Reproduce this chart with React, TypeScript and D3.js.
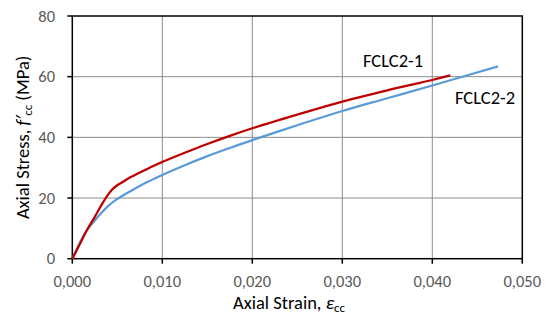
import React from "react";
import * as d3 from "d3";

const xTicks = [0, 0.01, 0.02, 0.03, 0.04, 0.05];
const yTicks = [0, 20, 40, 60, 80];

const strain1 = [0, 0.0008, 0.0016, 0.0025, 0.0033, 0.004, 0.0045, 0.005, 0.0056, 0.0065, 0.0075, 0.0086, 0.0097, 0.0125, 0.015, 0.0175, 0.02, 0.025, 0.03, 0.035, 0.04, 0.042];
const stress1 = [0, 4.6, 9.3, 13.8, 18, 21.2, 23, 24.2, 25.3, 26.9, 28.4, 30.0, 31.5, 34.9, 37.8, 40.5, 43, 47.5, 51.8, 55.5, 58.9, 60.4];

const strain2 = [0, 0.0008, 0.0016, 0.0025, 0.0033, 0.004, 0.0048, 0.0055, 0.0065, 0.008, 0.0097, 0.0125, 0.015, 0.0175, 0.02, 0.025, 0.03, 0.035, 0.04, 0.0473];
const stress2 = [0, 5, 9.3, 12.6, 15.3, 17.4, 19.3, 20.6, 22.3, 24.8, 27.2, 30.8, 33.8, 36.5, 39.1, 44, 48.7, 52.9, 57.1, 63.4];

const seriesNames = ["FCLC2-1", "FCLC2-2"];

const W = 550, H = 322;
const M = { left: 72.3, right: 522.3, top: 16, bottom: 258.7 };

export default function App() {
  const x = d3.scaleLinear().domain([0, 0.05]).range([M.left, M.right]);
  const y = d3.scaleLinear().domain([0, 80]).range([M.bottom, M.top]);
  const line = d3.line<[number, number]>().x(d => x(d[0])).y(d => y(d[1])).curve(d3.curveCatmullRom.alpha(0.5));
  const d1 = line(strain1.map((s, i) => [s, stress1[i]] as [number, number]));
  const d2 = line(strain2.map((s, i) => [s, stress2[i]] as [number, number]));
  const font = "Carlito, 'Open Sans', 'Noto Sans', sans-serif";
  const fmt = (v: number) => v.toFixed(3).replace(".", ",");
  return (
    <svg width={W} height={H} style={{ position: "absolute", left: 0, top: 0, background: "#fff" }} fontFamily={font}>
      {xTicks.slice(1, -1).map(t => (
        <line key={"gx" + t} x1={x(t)} x2={x(t)} y1={M.top} y2={M.bottom} stroke="#8c8c8c" strokeWidth={1} />
      ))}
      {yTicks.slice(1, -1).map(t => (
        <line key={"gy" + t} x1={M.left} x2={M.right} y1={y(t)} y2={y(t)} stroke="#8c8c8c" strokeWidth={1} />
      ))}
      <rect x={M.left} y={M.top} width={M.right - M.left} height={M.bottom - M.top} fill="none" stroke="#000" strokeWidth={1.5} />
      {xTicks.map(t => (
        <g key={"tx" + t}>
          <line x1={x(t)} x2={x(t)} y1={M.bottom} y2={M.bottom + 5} stroke="#000" strokeWidth={1.5} />
          <text x={x(t)} y={287} textAnchor="middle" fontSize={16.5} fill="#595959">{fmt(t)}</text>
        </g>
      ))}
      {yTicks.map(t => (
        <g key={"ty" + t}>
          <line x1={M.left - 5} x2={M.left} y1={y(t)} y2={y(t)} stroke="#000" strokeWidth={1.5} />
          <text x={55} y={y(t) + 5.5} textAnchor="end" fontSize={16.5} fill="#595959">{t}</text>
        </g>
      ))}
      <path d={d2 || ""} fill="none" stroke="#5B9BD5" strokeWidth={2.25} />
      <path d={d1 || ""} fill="none" stroke="#C00000" strokeWidth={2.25} />
      <text x={363} y={66.5} fontSize={18.5} fill="#000">{seriesNames[0]}</text>
      <text x={455} y={104} fontSize={18.5} fill="#000">{seriesNames[1]}</text>
      <text x={233} y={309} fontSize={18.5} fill="#000">
        Axial Strain, <tspan fontStyle="italic">ε</tspan><tspan fontSize={13} dy={3}>cc</tspan>
      </text>
      <text transform={`translate(28.5,${(M.top + M.bottom) / 2}) rotate(-90)`} textAnchor="middle" fontSize={18.5} fill="#000">
        Axial Stress, <tspan fontStyle="italic">f′</tspan><tspan fontSize={13} dy={3}>cc</tspan><tspan dy={-3}> (MPa)</tspan>
      </text>
    </svg>
  );
}
